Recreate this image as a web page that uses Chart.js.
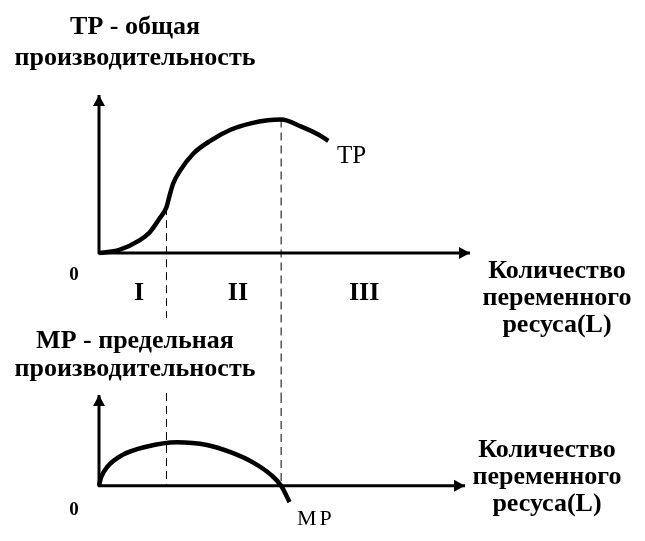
<!DOCTYPE html>
<html>
<head>
<meta charset="utf-8">
<script src="https://cdn.jsdelivr.net/npm/chart.js@4.4.0/dist/chart.umd.min.js"></script>
<style>
  html, body { margin: 0; padding: 0; background: #fff; }
  #wrap { position: relative; width: 645px; height: 541px; }
  canvas { position: absolute; left: 0; top: 0; }
</style>
</head>
<body>
<div id="wrap">
  <canvas id="tp-chart" width="645" height="541"></canvas>
  <canvas id="mp-chart" width="645" height="541"></canvas>
</div>
<script>
// Количество переменного ресурса L (ось X, общая для обоих графиков)
const axisMaxL = 11;

// ТР - общая производительность
const tpL      = [0, 0.6, 1.2, 1.5, 1.8, 2.0, 2.1, 2.2, 2.4, 2.8, 3.3, 3.9, 4.5, 5.0, 5.4, 6.0, 6.5, 6.8];
const tpValues = [0, 0.2, 0.8, 1.3, 2.2, 2.9, 3.7, 4.4, 5.2, 6.3, 7.1, 7.8, 8.2, 8.4, 8.45, 8.0, 7.5, 7.1];

// МР - предельная производительность
const mpL      = [0, 0.06, 0.25, 0.7, 1.4, 2.3, 3.2, 3.9, 4.6, 5.1, 5.4, 5.65];
const mpValues = [0, 0.9, 2.1, 3.4, 4.3, 4.8, 4.5, 3.7, 2.5, 1.2, 0, -1.8];

// Границы стадий производства и их подписи
const stageBounds = [2.0, 5.4];
const stageLabels = ['I', 'II', 'III'];

// Подписи
const tpTitle   = ['ТР - общая', 'производительность'];
const mpTitle   = ['МР - предельная', 'производительность'];
const axisTitle = ['Количество', 'переменного', 'ресуса(L)'];

const BOLD = 'bold 26px "Liberation Serif", "Times New Roman", serif';

//***********
// FUNCTIONS
//***********

// Ось со стрелкой на конце (x2, y2)
function arrow(ctx, x1, y1, x2, y2) {
  ctx.beginPath();
  ctx.moveTo(x1, y1);
  ctx.lineTo(x2, y2);
  ctx.lineWidth = 3;
  ctx.stroke();
  const ang = Math.atan2(y2 - y1, x2 - x1);
  const len = 11, half = 6;
  ctx.beginPath();
  ctx.moveTo(x2, y2);
  ctx.lineTo(x2 - len * Math.cos(ang) + half * Math.sin(ang), y2 - len * Math.sin(ang) - half * Math.cos(ang));
  ctx.lineTo(x2 - len * Math.cos(ang) - half * Math.sin(ang), y2 - len * Math.sin(ang) + half * Math.cos(ang));
  ctx.closePath();
  ctx.fill();
}

function dashed(ctx, x, yFrom, yTo) {
  ctx.save();
  ctx.setLineDash([8, 5]);
  ctx.lineWidth = 1;
  ctx.beginPath();
  ctx.moveTo(x, yFrom);
  ctx.lineTo(x, yTo);
  ctx.stroke();
  ctx.restore();
}

function lines(ctx, list, cx, y0, step) {
  list.forEach((t, i) => ctx.fillText(t, cx, y0 + i * step));
}

// Оформление верхнего графика: оси, пунктир, подписи
const tpDecor = {
  id: 'tpDecor',
  afterDatasetsDraw(chart) {
    const { ctx, chartArea: a, scales: { x, y } } = chart;
    ctx.save();
    ctx.fillStyle = '#000';
    ctx.strokeStyle = '#000';
    const x0 = x.getPixelForValue(0), y0 = y.getPixelForValue(0);
    arrow(ctx, x0, y0 + 1, x0, a.top);
    arrow(ctx, x0 - 1, y0, a.right, y0);

    const b1 = x.getPixelForValue(stageBounds[0]);
    const b2 = x.getPixelForValue(stageBounds[1]);
    dashed(ctx, b1, y.getPixelForValue(tpValues[tpL.indexOf(stageBounds[0])]), 318);
    dashed(ctx, b2, y.getPixelForValue(tpValues[tpL.indexOf(stageBounds[1])]), 395);

    ctx.textAlign = 'center';
    ctx.textBaseline = 'alphabetic';
    ctx.font = BOLD;
    lines(ctx, tpTitle, 135, 34, 31);
    lines(ctx, axisTitle, 557, 278, 27);
    const stagePos = [1.19, 4.12, 7.86];
    stageLabels.forEach((s, i) => ctx.fillText(s, x.getPixelForValue(stagePos[i]), 300));
    ctx.font = 'bold 19px "Liberation Serif", serif';
    ctx.fillText('0', x0 - 25, 280);

    ctx.textAlign = 'left';
    ctx.font = '25px "Liberation Serif", serif';
    ctx.fillText('ТР', 337, 163);
    ctx.restore();
  }
};

// Оформление нижнего графика
const mpDecor = {
  id: 'mpDecor',
  afterDatasetsDraw(chart) {
    const { ctx, chartArea: a, scales: { x, y } } = chart;
    ctx.save();
    ctx.fillStyle = '#000';
    ctx.strokeStyle = '#000';
    const x0 = x.getPixelForValue(0), y0 = y.getPixelForValue(0);
    arrow(ctx, x0, y0 + 1, x0, a.top);
    arrow(ctx, x0 - 1, y0, a.right - 5, y0);

    dashed(ctx, x.getPixelForValue(stageBounds[0]), 393, y0);
    dashed(ctx, x.getPixelForValue(stageBounds[1]), a.top, y0);

    ctx.textAlign = 'center';
    ctx.textBaseline = 'alphabetic';
    ctx.font = BOLD;
    lines(ctx, mpTitle, 135, 348, 28);
    lines(ctx, axisTitle, 547, 457, 27);
    ctx.font = 'bold 19px "Liberation Serif", serif';
    ctx.fillText('0', x0 - 25, 515);

    ctx.textAlign = 'left';
    ctx.font = '22px "Liberation Serif", serif';
    ctx.letterSpacing = '3px';
    ctx.fillText('МР', 297, 525);
    ctx.restore();
  }
};

function makeChart(id, L, values, yMin, yMax, padding, plugin) {
  return new Chart(document.getElementById(id).getContext('2d'), {
    type: 'line',
    data: {
      datasets: [{
        data: L.map((l, i) => ({ x: l, y: values[i] })),
        borderColor: '#000',
        borderWidth: 4.5,
        pointRadius: 0,
        cubicInterpolationMode: 'monotone',
        clip: false,
        fill: false
      }]
    },
    options: {
      responsive: false,
      animation: false,
      layout: { padding: padding },
      plugins: { legend: { display: false }, tooltip: { enabled: false } },
      scales: {
        x: { type: 'linear', min: 0, max: axisMaxL, display: false },
        y: { type: 'linear', min: yMin, max: yMax, display: false }
      }
    },
    plugins: [plugin]
  });
}

makeChart('tp-chart', tpL, tpValues, 0, 10, { left: 99, right: 175, top: 95, bottom: 288 }, tpDecor);
makeChart('mp-chart', mpL, mpValues, -3, 10, { left: 99, right: 175, top: 395, bottom: 28 }, mpDecor);
</script>
</body>
</html>
